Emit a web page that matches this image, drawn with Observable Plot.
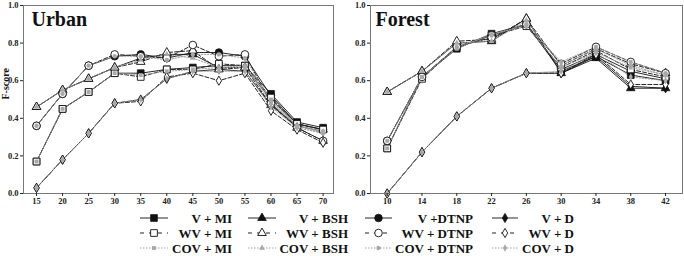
<!DOCTYPE html>
<html><head><meta charset="utf-8">
<script src="https://cdn.jsdelivr.net/npm/d3@7"></script>
<script src="https://cdn.jsdelivr.net/npm/@observablehq/plot@0.6"></script>
<style>
body{margin:0;background:#fff;}
#wrap{position:relative;width:684px;height:256px;overflow:hidden;background:#fff;font-family:"Liberation Serif",serif;}
#urban{position:absolute;left:0;top:0;}
#forest{position:absolute;left:342px;top:0;}
#legend{position:absolute;left:0;top:205px;}
</style></head>
<body><div id="wrap"><div id="urban"></div><div id="forest"></div><div id="legend"></div></div>
<script>
const methods = ["V","WV","COV"];
const cats = ["MI","BSH","DTNP","D"];
const yTicks = [0,0.2,0.4,0.6,0.8,1.0];

const urbanX = [15,20,25,30,35,40,45,50,55,60,65,70];
const urban_V_MI    = [0.17,0.45,0.54,0.64,0.64,0.66,0.67,0.68,0.68,0.53,0.38,0.35];
const urban_V_BSH   = [0.46,0.55,0.61,0.67,0.72,0.74,0.74,0.67,0.67,0.50,0.37,0.34];
const urban_V_DTNP  = [0.36,0.53,0.68,0.73,0.74,0.72,0.75,0.75,0.73,0.52,0.37,0.34];
const urban_V_D     = [0.03,0.18,0.32,0.48,0.50,0.61,0.65,0.66,0.65,0.47,0.36,0.33];
const urban_WV_MI   = [0.17,0.45,0.54,0.64,0.62,0.66,0.66,0.69,0.68,0.51,0.37,0.34];
const urban_WV_BSH  = [0.46,0.55,0.61,0.67,0.70,0.75,0.76,0.66,0.67,0.47,0.35,0.28];
const urban_WV_DTNP = [0.36,0.53,0.68,0.74,0.73,0.72,0.79,0.73,0.74,0.48,0.35,0.28];
const urban_WV_D    = [0.03,0.18,0.32,0.48,0.49,0.62,0.64,0.60,0.64,0.44,0.34,0.27];
const urban_COV_MI  = [0.17,0.45,0.54,0.64,0.63,0.65,0.66,0.67,0.67,0.50,0.36,0.33];
const urban_COV_BSH = [0.46,0.55,0.61,0.67,0.71,0.74,0.72,0.67,0.68,0.48,0.36,0.33];
const urban_COV_DTNP= [0.36,0.53,0.68,0.73,0.73,0.71,0.74,0.74,0.72,0.49,0.36,0.32];
const urban_COV_D   = [0.03,0.18,0.32,0.48,0.50,0.61,0.65,0.65,0.65,0.46,0.35,0.32];

const forestX = [10,14,18,22,26,30,34,38,42];
const forest_V_MI    = [0.24,0.62,0.77,0.85,0.90,0.65,0.73,0.63,0.60];
const forest_V_BSH   = [0.54,0.65,0.80,0.81,0.93,0.64,0.72,0.56,0.56];
const forest_V_DTNP  = [0.28,0.62,0.78,0.84,0.90,0.66,0.74,0.65,0.61];
const forest_V_D     = [0.00,0.22,0.41,0.56,0.64,0.64,0.73,0.57,0.56];
const forest_WV_MI   = [0.24,0.61,0.78,0.84,0.89,0.67,0.76,0.66,0.62];
const forest_WV_BSH  = [0.54,0.65,0.81,0.82,0.93,0.68,0.77,0.69,0.64];
const forest_WV_DTNP = [0.28,0.62,0.78,0.83,0.90,0.69,0.78,0.70,0.64];
const forest_WV_D    = [0.00,0.22,0.41,0.56,0.64,0.64,0.74,0.58,0.58];
const forest_COV_MI  = [0.24,0.62,0.77,0.85,0.89,0.67,0.75,0.67,0.63];
const forest_COV_BSH = [0.54,0.65,0.80,0.81,0.92,0.68,0.77,0.68,0.63];
const forest_COV_DTNP= [0.28,0.62,0.78,0.84,0.90,0.70,0.78,0.70,0.64];
const forest_COV_D   = [0.00,0.22,0.41,0.56,0.64,0.65,0.75,0.62,0.60];

const legendLabels = {
  V:{MI:"V + MI",BSH:"V + BSH",DTNP:"V +DTNP",D:"V + D"},
  WV:{MI:"WV + MI",BSH:"WV + BSH",DTNP:"WV + DTNP",D:"WV + D"},
  COV:{MI:"COV + MI",BSH:"COV + BSH",DTNP:"COV + DTNP",D:"COV + D"}
};

const urbanSeries = {V:{MI:urban_V_MI,BSH:urban_V_BSH,DTNP:urban_V_DTNP,D:urban_V_D},
  WV:{MI:urban_WV_MI,BSH:urban_WV_BSH,DTNP:urban_WV_DTNP,D:urban_WV_D},
  COV:{MI:urban_COV_MI,BSH:urban_COV_BSH,DTNP:urban_COV_DTNP,D:urban_COV_D}};
const forestSeries = {V:{MI:forest_V_MI,BSH:forest_V_BSH,DTNP:forest_V_DTNP,D:forest_V_D},
  WV:{MI:forest_WV_MI,BSH:forest_WV_BSH,DTNP:forest_WV_DTNP,D:forest_WV_D},
  COV:{MI:forest_COV_MI,BSH:forest_COV_BSH,DTNP:forest_COV_DTNP,D:forest_COV_D}};

const symbolOf = {MI:"square",BSH:"triangle",DTNP:"circle",D:"diamond"};
const rOf = {MI:3.8,BSH:3.2,DTNP:3.8,D:2.8};
const lineStyle = {
  V:{stroke:"#111",strokeWidth:0.9},
  WV:{stroke:"#222",strokeWidth:1,strokeDasharray:"4,2"},
  COV:{stroke:"#999",strokeWidth:0.9,strokeDasharray:"1.5,1.5"}
};
const dotStyle = {
  V:{fill:"#111",stroke:"#111",strokeWidth:0.8},
  WV:{fill:"#fff",stroke:"#111",strokeWidth:0.9},
  COV:{fill:"#a8a8a8",stroke:"none"}
};

function longData(xs, series){
  const out=[];
  for(const m of methods) for(const c of cats){
    series[m][c].forEach((v,i)=>out.push({x:xs[i],y:v,method:m,cat:c,key:m+"_"+c}));
  }
  return out;
}

function panel(xs, series, title, opts){
  const data = longData(xs, series);
  const marks = [];
  for(const m of methods){
    marks.push(Plot.line(data.filter(d=>d.method===m),{x:"x",y:"y",z:"key",...lineStyle[m]}));
  }
  for(const m of methods) for(const c of cats){
    const r = m==="COV" ? 2.2 : rOf[c];
    marks.push(Plot.dot(data.filter(d=>d.method===m && d.cat===c),{x:"x",y:"y",symbol:symbolOf[c],r,...dotStyle[m]}));
  }
  marks.push(Plot.frame({stroke:"#777",strokeWidth:1}));
  marks.push(Plot.axisX({ticks:xs,tickSize:3,tickPadding:1,fontWeight:"bold",tickFormat:d=>d,label:null}));
  marks.push(Plot.axisY({ticks:yTicks,tickSize:3,tickPadding:2,fontWeight:"bold",tickFormat:d3.format(".1f"),label:null}));
  marks.push(Plot.text([title],{frameAnchor:"top-left",dx:opts.titleDx,dy:6,lineAnchor:"top",textAnchor:"start",fontSize:20,fontWeight:"bold",fill:"#111"}));
  if(opts.ylabel){
    marks.push(Plot.text([opts.ylabel],{frameAnchor:"left",rotate:-90,dx:-18,fontSize:10,fontWeight:"bold",fill:"#111"}));
  }
  return Plot.plot({
    width:342,height:208,
    marginLeft:opts.ml,marginRight:opts.mr,marginTop:5,marginBottom:15,
    style:{fontFamily:"'Liberation Serif', serif",fontSize:"8.5px",color:"#222",background:"#fff"},
    x:{domain:opts.xdomain,label:null},
    y:{domain:[0,1],label:null},
    marks
  });
}

document.getElementById("urban").appendChild(panel(urbanX, urbanSeries, "Urban", {ml:23,mr:9,xdomain:[12.5,72],titleDx:8,ylabel:"F-score"}));
document.getElementById("forest").appendChild(panel(forestX, forestSeries, "Forest", {ml:28,mr:2,xdomain:[8.08,43.95],titleDx:5}));

// legend
const lineCols = [[140,168],[248,276],[365,392],[492,518]];
const textRight = [232,348,473,574];
const rowY = [13,28,43];
const svg = d3.select("#legend").append("svg").attr("width",684).attr("height",51)
  .style("font-family","'Liberation Serif', serif");
methods.forEach((m,ri)=>{
  cats.forEach((c,ci)=>{
    const [x0,x1]=lineCols[ci]; const y=rowY[ri];
    const ls=lineStyle[m];
    svg.append("line").attr("x1",x0).attr("x2",x1).attr("y1",y).attr("y2",y)
      .attr("stroke",ls.stroke).attr("stroke-width",ls.strokeWidth)
      .attr("stroke-dasharray",m==="WV"?"4,5":(ls.strokeDasharray||null));
    const r = m==="COV"?2.2:rOf[c];
    const type = {square:d3.symbolSquare,triangle:d3.symbolTriangle,circle:d3.symbolCircle,diamond:d3.symbolDiamond}[symbolOf[c]];
    const ds=dotStyle[m];
    svg.append("path").attr("transform",`translate(${(x0+x1)/2},${y})`)
      .attr("d",d3.symbol(type, Math.PI*r*r)())
      .attr("fill",ds.fill).attr("stroke",ds.stroke).attr("stroke-width",ds.strokeWidth||0);
    svg.append("text").attr("x",textRight[ci]).attr("y",y).attr("dy","0.35em")
      .attr("text-anchor","end").attr("font-size",13).attr("font-weight","bold").attr("fill","#111")
      .text(legendLabels[m][c]);
  });
});
</script></body></html>
